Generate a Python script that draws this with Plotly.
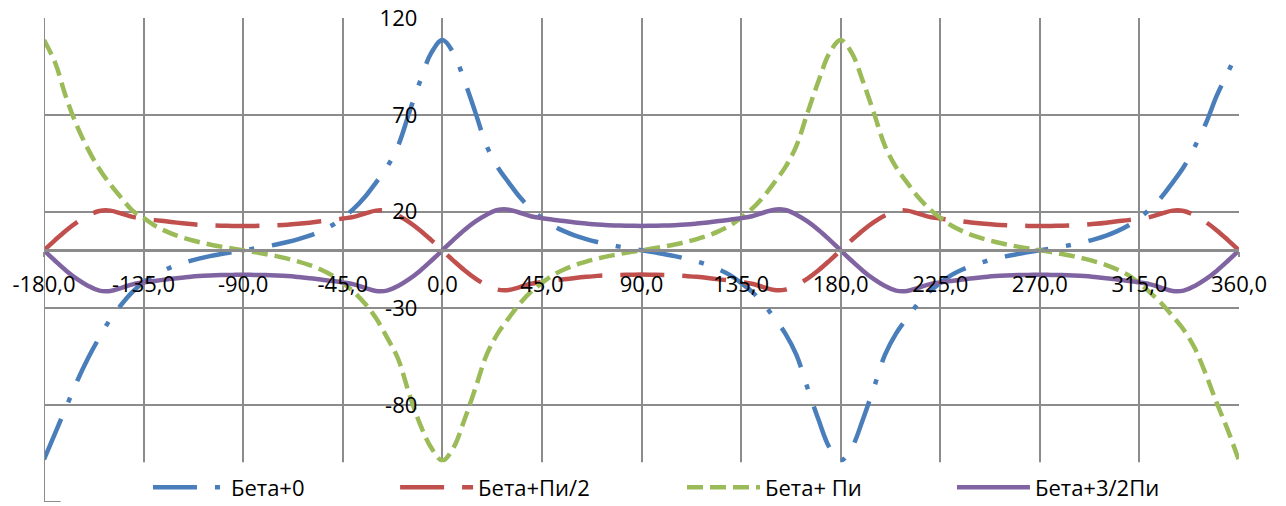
import plotly.graph_objects as go

# ---------------- data ----------------
angles = list(range(-180, 365, 5))

beta_0 = [
    -108, -94.5, -81, -67.5, -55.5, -45, -35.5, -28, -21.5, -16.5, -12.8, -9.9, -7.6, -5.8, -4.3, -3.0, -1.9, -0.9, 0,
    0.9, 1.9, 3.0, 4.3, 5.8, 7.6, 9.9, 12.8, 16.8, 21.5, 27.5, 35, 43, 54, 71, 87.5, 102, 108.6,
    102, 87.5, 71, 54, 43, 35, 27.5, 21.5, 16.8, 12.8, 9.9, 7.6, 5.8, 4.3, 3.0, 1.9, 0.9, 0,
    -0.9, -1.9, -3.0, -4.3, -5.8, -7.6, -9.9, -12.8, -16.8, -21.5, -27.5, -35, -43, -54, -71, -87.5, -102, -108.6,
    -102, -87.5, -71, -54, -43, -35, -27.5, -21.5, -16.8, -12.8, -9.9, -7.6, -5.8, -4.3, -3.0, -1.9, -0.9, 0,
    0.9, 1.9, 3.0, 4.3, 5.8, 7.6, 9.9, 12.8, 16.8, 21.5, 27.5, 35, 43, 53.5, 65.5, 80, 92, 104,
]

beta_pi2 = [
    0, 5.3, 10.3, 14.6, 18.0, 20.3, 20.5, 19.0, 17.3, 16.4, 15.6, 15.0, 14.3, 13.7, 13.2, 12.9, 12.7, 12.6, 12.5,
    12.6, 12.7, 12.9, 13.2, 13.7, 14.3, 15.0, 15.6, 16.4, 17.3, 19.0, 20.5, 20.3, 18.0, 14.6, 10.3, 5.3, 0,
    -5.3, -10.3, -14.6, -18.0, -20.3, -20.5, -19.0, -17.3, -16.4, -15.6, -15.0, -14.3, -13.7, -13.2, -12.9, -12.7, -12.6, -12.5,
    -12.6, -12.7, -12.9, -13.2, -13.7, -14.3, -15.0, -15.6, -16.4, -17.3, -19.0, -20.5, -20.3, -18.0, -14.6, -10.3, -5.3, 0,
    5.3, 10.3, 14.6, 18.0, 20.3, 20.5, 19.0, 17.3, 16.4, 15.6, 15.0, 14.3, 13.7, 13.2, 12.9, 12.7, 12.6, 12.5,
    12.6, 12.7, 12.9, 13.2, 13.7, 14.3, 15.0, 15.6, 16.4, 17.3, 19.0, 20.5, 20.3, 18.0, 14.6, 10.3, 5.3, 0,
]

beta_pi = [
    108.6, 97, 79, 64, 52, 42, 34, 27, 20.5, 16.8, 12.8, 9.9, 7.6, 5.8, 4.3, 3.0, 1.9, 0.9, 0,
    -0.9, -1.9, -3.0, -4.3, -5.8, -7.6, -9.9, -12.8, -16.8, -21.5, -27.5, -35, -45, -56, -74, -90, -102, -108.6,
    -102, -87.5, -71, -54, -43, -35, -27.5, -21.5, -16.8, -12.8, -9.9, -7.6, -5.8, -4.3, -3.0, -1.9, -0.9, 0,
    0.9, 1.9, 3.0, 4.3, 5.8, 7.6, 9.9, 12.8, 16.8, 21.5, 27.5, 35, 43, 54, 71, 87.5, 102, 108.6,
    102, 87.5, 71, 54, 43, 35, 27.5, 21.5, 16.8, 12.8, 9.9, 7.6, 5.8, 4.3, 3.0, 1.9, 0.9, 0,
    -0.9, -1.9, -3.0, -4.3, -5.8, -7.6, -9.9, -12.8, -17, -22, -27.5, -34, -41, -50.5, -64, -79, -93, -108.6,
]

beta_3pi2 = [
    0, -5.4, -10.5, -14.9, -18.4, -20.8, -21.0, -19.4, -17.6, -16.6, -15.8, -15.1, -14.4, -13.8, -13.3, -13.0, -12.8, -12.7, -12.6,
    -12.7, -12.8, -13.0, -13.3, -13.8, -14.4, -15.1, -15.8, -16.6, -17.6, -19.4, -21.0, -20.8, -18.4, -14.9, -10.5, -5.4, 0,
    5.4, 10.5, 14.9, 18.4, 20.8, 21.0, 19.4, 17.6, 16.6, 15.8, 15.1, 14.4, 13.8, 13.3, 13.0, 12.8, 12.7, 12.6,
    12.7, 12.8, 13.0, 13.3, 13.8, 14.4, 15.1, 15.8, 16.6, 17.6, 19.4, 21.0, 20.8, 18.4, 14.9, 10.5, 5.4, 0,
    -5.4, -10.5, -14.9, -18.4, -20.8, -21.0, -19.4, -17.6, -16.6, -15.8, -15.1, -14.4, -13.8, -13.3, -13.0, -12.8, -12.7, -12.6,
    -12.7, -12.8, -13.0, -13.3, -13.8, -14.4, -15.1, -15.8, -16.6, -17.6, -19.4, -21.0, -20.8, -18.4, -14.9, -10.5, -5.4, 0,
]

series_names = ["Бета+0", "Бета+Пи/2", "Бета+ Пи", "Бета+3/2Пи"]

x_tickvals = [-180, -135, -90, -45, 0, 45, 90, 135, 180, 225, 270, 315, 360]
x_ticktext = ["-180,0", "-135,0", "-90,0", "-45,0", "0,0", "45,0", "90,0",
              "135,0", "180,0", "225,0", "270,0", "315,0", "360,0"]
y_tickvals = [120, 70, 20, -30, -80]
y_ticktext = ["120", "70", "20", "-30", "-80"]

# ---------------- styling ----------------
colors = ["#4A7EBB", "#C0504D", "#9BBB59", "#8064A2"]
dashes = ["44px,18px,5px,18px", "44px,18px", "16px,7px", "solid"]
GRID = "#8C8C8C"
FONT = "Open Sans"
legend_ids = ["legend", "legend2", "legend3", "legend4"]
legend_x = [0.0870, 0.2938, 0.5339, 0.7598]   # left edges of the four legend entries (paper units)

fig = go.Figure()
for name, vals, col, dsh, lg in zip(series_names, [beta_0, beta_pi2, beta_pi, beta_3pi2], colors, dashes, legend_ids):
    fig.add_trace(go.Scatter(
        x=angles, y=vals, mode="lines", name=name, legend=lg,
        line=dict(color=col, width=4.5, dash=dsh, shape="spline", smoothing=1.0),
        hoverinfo="x+y",
    ))

legend_common = dict(
    orientation="h", y=0.03, xanchor="left", yanchor="middle",
    bgcolor="rgba(0,0,0,0)", borderwidth=0, itemwidth=73,
    font=dict(family=FONT, size=22, color="black"),
)

fig.update_layout(
    template="none",
    width=1286, height=506,
    margin=dict(l=44, r=47, t=18, b=4, autoexpand=False),
    paper_bgcolor="white", plot_bgcolor="white",
    font=dict(family=FONT, size=22, color="black"),
    showlegend=True,
    xaxis=dict(
        range=[-180, 360], tickmode="array", tickvals=x_tickvals, ticktext=x_ticktext,
        showgrid=True, gridcolor=GRID, gridwidth=2, zeroline=False,
        showline=True, linecolor=GRID, linewidth=3,
        ticks="outside", ticklen=5, tickwidth=2, tickcolor=GRID,
        anchor="free", position=0.52, automargin=False, ticklabelstandoff=8,
        tickfont=dict(family=FONT, size=22, color="black"),
    ),
    yaxis=dict(
        range=[-130, 120], tickmode="array", tickvals=y_tickvals, ticktext=y_ticktext,
        showgrid=True, gridcolor=GRID, gridwidth=2, zeroline=False,
        showline=False, ticks="",
        anchor="free", position=1/3, automargin=False, ticklabelstandoff=25,
        tickfont=dict(family=FONT, size=22, color="black"),
    ),
    shapes=[
        dict(type="rect", xref="paper", yref="y", x0=0.002, x1=1.006, y0=-131, y1=-109.5,
             fillcolor="white", line=dict(width=0), layer="above"),
        dict(type="line", xref="x", yref="y", x0=-180, x1=-180, y0=-130, y1=120,
             line=dict(color=GRID, width=2), layer="above"),
        dict(type="line", xref="x", yref="y", x0=-180, x1=-172.5, y0=-130, y1=-130,
             line=dict(color=GRID, width=2), layer="above"),
    ],
)
for lg, lx in zip(legend_ids, legend_x):
    fig.update_layout({lg: dict(legend_common, x=lx)})

fig.write_html(
    "out.html",
    config={"displayModeBar": False},
    post_script="document.body.style.margin='0';document.body.style.overflow='hidden';",
)
